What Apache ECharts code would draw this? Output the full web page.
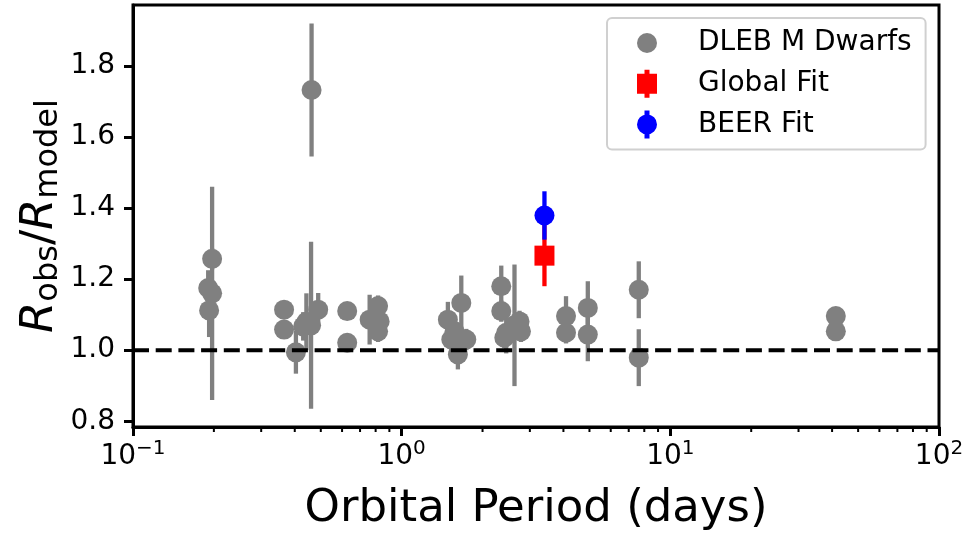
<!DOCTYPE html>
<html><head><meta charset="utf-8">
<script src="https://cdn.jsdelivr.net/npm/echarts@6/dist/echarts.min.js"></script>
<style>html,body{margin:0;padding:0;background:#fff}#c{width:967px;height:537px}</style>
</head><body><div id="c"></div>
<script>
// ---- data ----
const dlebPeriod = [0.197, 0.1905, 0.197, 0.192,
  0.365, 0.365, 0.404, 0.43, 0.442, 0.46, 0.489, 0.462,
  0.627, 0.627, 0.817, 0.76, 0.828, 0.817,
  1.667, 1.486, 1.574, 1.53, 1.74, 1.619,
  2.348, 2.348, 2.45, 2.746, 2.78, 2.41, 2.63,
  4.09, 4.09, 4.93, 4.93, 7.63, 7.63, 41.3, 41.3];
const dlebRatio = [1.257, 1.175, 1.16, 1.112,
  1.114, 1.058, 0.994, 1.067, 1.08, 1.07, 1.114, 1.732,
  1.11, 1.021, 1.124, 1.086, 1.081, 1.053,
  1.133, 1.086, 1.053, 1.03, 1.03, 0.988,
  1.18, 1.11, 1.049, 1.081, 1.053, 1.035, 1.07,
  1.096, 1.049, 1.119, 1.044, 1.17, 0.979, 1.096, 1.053];
const dlebErr = [0.03, 0.05, 0.30, 0.075,
  0.02, 0.02, 0.06, 0.04, 0.08, 0.235, 0.047, 0.187,
  0.02, 0.02, 0.03, 0.07, 0.03, 0.03,
  0.077, 0.05, 0.03, 0.03, 0.03, 0.042,
  0.058, 0.03, 0.058, 0.03, 0.03, 0.03, 0.171,
  0.056, 0.03, 0.075, 0.075, 0.08, 0.08, 0.0, 0.0];
const globalPeriod = [3.40];
const globalRatio = [1.266];
const globalErr = [0.086];
const beerPeriod = [3.40];
const beerRatio = [1.379];
const beerErr = [0.068];
const refLevel = 1.0;
const xTicks = [0.1, 1, 10, 100];
const xMinorTicks = [0.2,0.3,0.4,0.5,0.6,0.7,0.8,0.9,2,3,4,5,6,7,8,9,20,30,40,50,60,70,80,90];
const yTicks = [0.8, 1.0, 1.2, 1.4, 1.6, 1.8];
const X_MIN = 0.1, X_MAX = 100, Y_MIN = 0.784, Y_MAX = 1.971;

// ---- chart ----
const FONT = 'DejaVu Sans';
function pts(px, py) { return px.map((p, i) => [p, py[i]]); }
function bars(px, py, pe) { return px.map((p, i) => [p, py[i] - pe[i], py[i] + pe[i]]); }
function barRender(color, w) {
  return function (params, api) {
    const a = api.coord([api.value(0), api.value(1)]);
    const b = api.coord([api.value(0), api.value(2)]);
    return { type: 'line', shape: { x1: a[0], y1: a[1], x2: b[0], y2: b[1] },
      style: { stroke: color, lineWidth: w } };
  };
}
const icoCircle = 'path://M0,0M40,28M20,4A10,10 0 1,1 20,24A10,10 0 1,1 20,4Z';
const icoSquareBar = 'path://M0,0M40,28M10,4H30V24H10ZM17.5,0H22.5V28H17.5Z';
const icoCircleBar = 'path://M0,0M40,28M20,4A10,10 0 1,1 20,24A10,10 0 1,1 20,4ZM17.5,0H22.5V28H17.5Z';

const chart = echarts.init(document.getElementById('c'), null, { renderer: 'canvas' });
chart.setOption({
  animation: false,
  backgroundColor: '#fff',
  textStyle: { fontFamily: FONT },
  grid: { left: 133, right: 28, top: 5, bottom: 109.5, show: true, borderColor: '#000', borderWidth: 3, containLabel: false },
  legend: {
    left: 607, top: 18, orient: 'vertical',
    backgroundColor: '#fff', borderColor: '#d0d0d0', borderWidth: 2, borderRadius: 5,
    padding: [10, 14, 10, 20], itemGap: 10.7, itemWidth: 40, itemHeight: 28,
    textStyle: { fontFamily: FONT, fontSize: 28, color: '#000', lineHeight: 30, padding: [0, 0, 0, 26] },
    data: [
      { name: 'DLEB M Dwarfs', icon: icoCircle },
      { name: 'Global Fit', icon: icoSquareBar },
      { name: 'BEER Fit', icon: icoCircleBar }
    ]
  },
  xAxis: {
    type: 'log', logBase: 10, min: X_MIN, max: X_MAX,
    name: 'Orbital Period (days)', nameLocation: 'middle', nameGap: 60, nameMoveOverlap: false,
    nameTextStyle: { fontFamily: FONT, fontSize: 45, color: '#000' },
    axisLine: { lineStyle: { color: '#000', width: 3 } },
    axisTick: { customValues: xTicks, length: 9, lineStyle: { color: '#000', width: 3 } },
    splitLine: { show: false },
    axisLabel: {
      customValues: xTicks, margin: 12, color: '#000',
      formatter: function (v) {
        const e = Math.round(Math.log10(v));
        return '{b|10}{s|' + (e < 0 ? '\u2212' : '') + Math.abs(e) + '}';
      },
      rich: {
        b: { fontFamily: FONT, fontSize: 28, color: '#000' },
        s: { fontFamily: FONT, fontSize: 20, color: '#000', padding: [0, 0, 16, 0] }
      }
    }
  },
  yAxis: {
    type: 'value', min: Y_MIN, max: Y_MAX,
    name: '{r|R}{sub|obs}{n|/}{r|R}{sub|model}', nameLocation: 'middle', nameGap: 68, nameMoveOverlap: false,
    nameTextStyle: {
      rich: {
        r: { fontFamily: FONT, fontSize: 45, fontStyle: 'italic', color: '#000' },
        n: { fontFamily: FONT, fontSize: 45, color: '#000' },
        sub: { fontFamily: FONT, fontSize: 32, color: '#000', padding: [18, 0, 0, 0] }
      }
    },
    axisLine: { lineStyle: { color: '#000', width: 3 } },
    axisTick: { customValues: yTicks, length: 9, lineStyle: { color: '#000', width: 3 } },
    splitLine: { show: false },
    axisLabel: { customValues: yTicks, margin: 18, color: '#000', fontFamily: FONT, fontSize: 28,
      formatter: v => v.toFixed(1) }
  },
  series: [
    { name: 'minorTicks', type: 'custom', z: 1, silent: true, clip: false,
      data: xMinorTicks.map(v => [v, Y_MIN]), encode: { x: 0, y: 1 },
      renderItem: function (params, api) {
        const p = api.coord([api.value(0), api.value(1)]);
        return { type: 'line', shape: { x1: p[0], y1: p[1], x2: p[0], y2: p[1] + 5 },
          style: { stroke: '#000', lineWidth: 2 } };
      } },
    { name: 'DLEB M Dwarfs', type: 'custom', z: 2, data: bars(dlebPeriod, dlebRatio, dlebErr),
      encode: { x: 0, y: [1, 2] }, renderItem: barRender('#808080', 4.3), itemStyle: { color: '#808080' } },
    { name: 'DLEB M Dwarfs', type: 'scatter', z: 3, data: pts(dlebPeriod, dlebRatio),
      symbol: 'circle', symbolSize: 20, itemStyle: { color: '#808080', opacity: 1 } },
    { name: 'ref', type: 'line', z: 4, data: [[X_MIN, refLevel], [X_MAX, refLevel]],
      symbol: 'none', lineStyle: { color: '#000', width: 4, type: [16, 6.7] } },
    { name: 'Global Fit', type: 'custom', z: 5, data: bars(globalPeriod, globalRatio, globalErr),
      encode: { x: 0, y: [1, 2] }, renderItem: barRender('#ff0000', 4.3), itemStyle: { color: '#ff0000' } },
    { name: 'Global Fit', type: 'scatter', z: 6, data: pts(globalPeriod, globalRatio),
      symbol: 'rect', symbolSize: 20, itemStyle: { color: '#ff0000', opacity: 1 } },
    { name: 'BEER Fit', type: 'custom', z: 7, data: bars(beerPeriod, beerRatio, beerErr),
      encode: { x: 0, y: [1, 2] }, renderItem: barRender('#0000ff', 4.3), itemStyle: { color: '#0000ff' } },
    { name: 'BEER Fit', type: 'scatter', z: 8, data: pts(beerPeriod, beerRatio),
      symbol: 'circle', symbolSize: 20, itemStyle: { color: '#0000ff', opacity: 1 } }
  ]
});
</script>
</body></html>
